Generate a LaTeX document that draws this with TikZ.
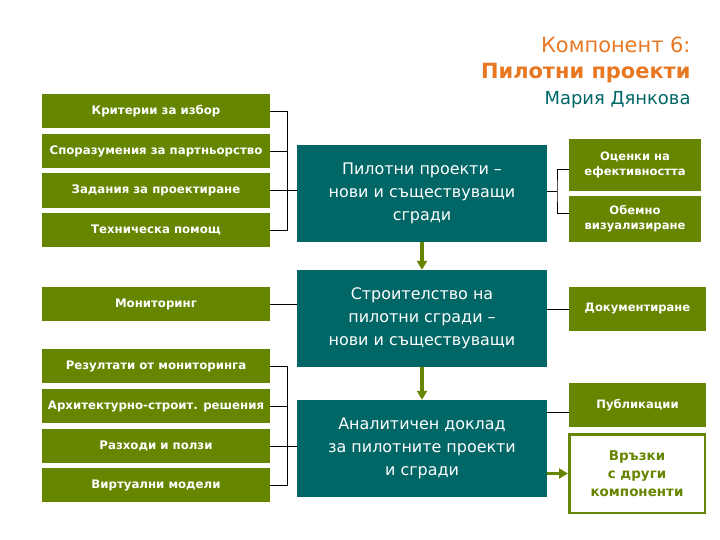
\documentclass[tikz,border=0pt]{standalone}
\usepackage{fontspec}
\setmainfont{DejaVu Sans}
\usetikzlibrary{
    arrows.meta,
    positioning,
    calc
}
\definecolor{LeafGreen}{RGB}{102,134,0}
\definecolor{DeepTeal}{RGB}{0,102,102}
\definecolor{TitleOrange}{RGB}{232,119,34}
\tikzset{
  leftbox/.style  = {fill=LeafGreen, text=white, minimum width=228bp,
                     minimum height=34bp, inner sep=0pt, align=center,
                     font=\fontsize{11.8}{14}\selectfont\bfseries},
  midbox/.style   = {fill=DeepTeal, text=white, minimum width=250bp,
                     minimum height=97bp, inner sep=0pt, align=center,
                     font=\fontsize{16}{23}\selectfont},
  rightbox/.style = {fill=LeafGreen, text=white, inner sep=0pt, align=center,
                     font=\fontsize{11.6}{15}\selectfont\bfseries},
  linkbox/.style  = {draw=LeafGreen, line width=2.5bp, text=LeafGreen,
                     inner sep=0pt, align=center,
                     font=\fontsize{13.5}{18}\selectfont\bfseries},
  arr/.style      = {black, line width=0.9bp},
  arrg/.style     = {-{Triangle[length=9bp,width=10bp]}, LeafGreen, line width=3.5bp}
}

\begin{document}
\begin{tikzpicture}[x=1bp, y=-1bp]
\useasboundingbox (0,0) rectangle (720,540);
% title
\node[anchor=east, text=TitleOrange, font=\fontsize{21}{24}\selectfont] (t1) at (694,45) {Компонент 6:};
\node[anchor=east, text=TitleOrange, font=\fontsize{21}{24}\selectfont\bfseries] (t2) at (694,73) {Пилотни проекти};
\node[anchor=east, text=DeepTeal, font=\fontsize{18}{22}\selectfont] (t3) at (694,100) {Мария Дянкова};
% left column
\node[leftbox] (crit) at (156,111) {Критерии за избор};
\node[leftbox] (partner) at (156,151) {Споразумения за партньорство};
\node[leftbox, minimum height=35bp] (design) at (156,190.5) {Задания за проектиране};
\node[leftbox] (tech) at (156,230) {Техническа помощ};
\node[leftbox] (mon) at (156,304) {Мониторинг};
\node[leftbox] (results) at (156,366) {Резултати от мониторинга};
\node[leftbox] (arch) at (156,406) {Архитектурно-строит. решения};
\node[leftbox] (costs) at (156,446) {Разходи и ползи};
\node[leftbox] (virt) at (156,485) {Виртуални модели};
% middle column
\node[midbox] (pilot) at (422,193.5) {Пилотни проекти –\\нови и съществуващи\\сгради};
\node[midbox] (build) at (422,318.5) {Строителство на\\пилотни сгради –\\нови и съществуващи};
\node[midbox] (report) at (422,448.5) {Аналитичен доклад\\за пилотните проекти\\и сгради};
% right column
\node[rightbox, minimum width=132bp, minimum height=52bp] (eval) at (635,165) {Оценки на\\ефективността};
\node[rightbox, minimum width=132bp, minimum height=46bp] (visual) at (635,219) {Обемно\\визуализиране};
\node[rightbox, minimum width=137bp, minimum height=44bp] (doc) at (637.5,309) {Документиране};
\node[rightbox, minimum width=137bp, minimum height=44bp] (pub) at (637.5,405) {Публикации};
\node[linkbox, minimum width=135.5bp, minimum height=78.5bp] (link) at (637,473.5) {Връзки\\с други\\компоненти};
% brackets
\draw[arr] (crit.east) -- ++(17,0) |- (tech.east);
\draw[arr] (partner.east) -- ++(17,0);
\draw[arr] (design.east) -- (design.east -| pilot.west);
\draw[arr] (mon.east) -- (mon.east -| build.west);
\draw[arr] (results.east) -- ++(17,0) |- (virt.east);
\draw[arr] (arch.east) -- ++(17,0);
\draw[arr] (costs.east) -- (costs.east -| report.west);
\coordinate (rb) at (557,191);
\draw[arr] (pilot.east |- rb) -- (rb);
\draw[arr] ([yshift=-4bp]eval.west) -| (rb) |- ([yshift=6bp]visual.west);
\draw[arr] (doc.west) -- (doc.west -| build.east);
\draw[arr] ([yshift=-7bp]pub.west) -- ([yshift=-7bp]pub.west -| report.east);
% flow
\draw[arrg] (pilot) -- (build);
\draw[arrg] (build) -- (report);
\draw[arrg] (report.east |- link.west) -- (link.west);
\end{tikzpicture}
\end{document}
